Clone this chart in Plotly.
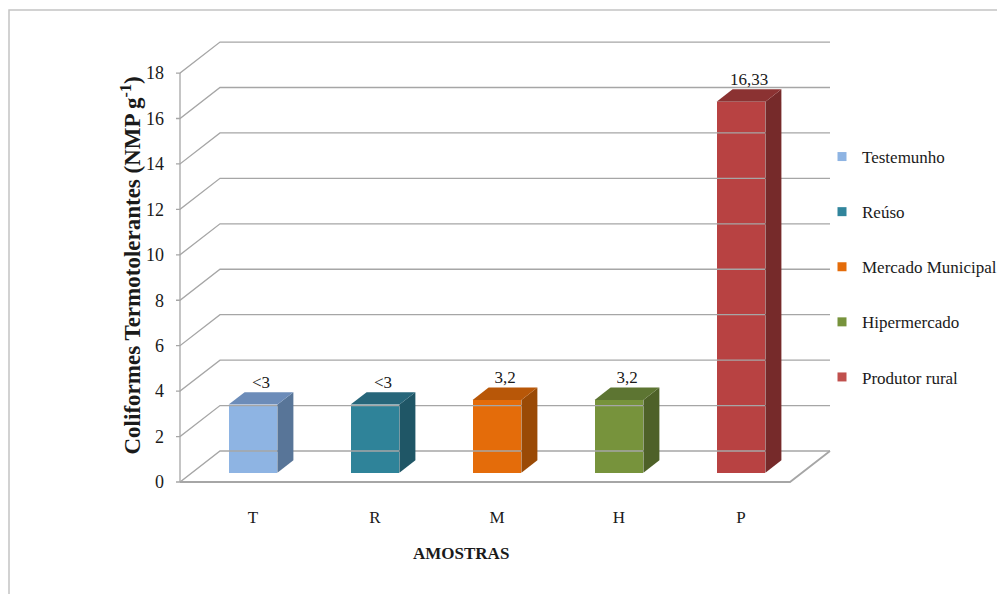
import plotly.graph_objects as go

# ---------------- data ----------------
categories = ["T", "R", "M", "H", "P"]
series_names = ["Testemunho", "Reúso", "Mercado Municipal", "Hipermercado", "Produtor rural"]
values = [3, 3, 3.2, 3.2, 16.33]
value_labels = ["<3", "<3", "3,2", "3,2", "16,33"]
y_ticks = [0, 2, 4, 6, 8, 10, 12, 14, 16, 18]
y_tick_labels = ["0", "2", "4", "6", "8", "10", "12", "14", "16", "18"]

# ---------------- styles ----------------
front_colors = ["#8EB4E3", "#2F8399", "#E46C0A", "#77933C", "#B84242"]
side_colors = ["#587598", "#1F5666", "#9A4A06", "#4E6128", "#762A2A"]
top_colors = ["#6C8CB9", "#27667A", "#B85708", "#5D7532", "#8B3232"]
legend_colors = ["#8EB4E3", "#31859C", "#E46C0A", "#77933C", "#C0504D"]
grid_color = "#A6A6A6"
FONT = "Liberation Serif, Times New Roman, serif"
TXT = "#1a1a1a"

# ---------------- geometry (pseudo 3-D) ----------------
W, H = 997, 594
M_L, M_R, M_T, M_B = 176, 163, 36, 106
PX_X = 122.0    # pixels per category
PX_Y = 22.72    # pixels per value unit
DX = 40 / PX_X  # depth offset (x) of back wall, in data units
DY = 31 / PX_Y  # depth offset (y) of back wall, in data units
D_FRONT, D_BACK = 0.3, 0.7
BAR_W = 0.4
X_LEFT = -0.5
X_RIGHT = len(categories) - 0.5

x_range = [X_LEFT - 4 / PX_X, X_LEFT - 4 / PX_X + (W - M_L - M_R) / PX_X]
y_range = [-6 / PX_Y, -6 / PX_Y + (H - M_T - M_B) / PX_Y]

fig = go.Figure()

# gridlines (diagonal on side wall + horizontal on back wall), with small tick marks
gx, gy = [], []
for t in y_ticks:
    gx += [X_LEFT - 5 / PX_X, X_LEFT, X_LEFT + DX, X_RIGHT + DX, None]
    gy += [t, t, t + DY, t + DY, None]
fig.add_trace(go.Scatter(x=gx, y=gy, mode="lines", line=dict(color=grid_color, width=1.3),
                         hoverinfo="skip", showlegend=False))
# axis line and floor edges
fig.add_trace(go.Scatter(x=[X_LEFT, X_LEFT], y=[y_ticks[0], y_ticks[-1]], mode="lines",
                         line=dict(color=grid_color, width=1.3), hoverinfo="skip", showlegend=False))
fig.add_trace(go.Scatter(x=[X_LEFT, X_RIGHT, X_RIGHT + DX], y=[0, 0, DY], mode="lines",
                         line=dict(color=grid_color, width=1.8), hoverinfo="skip", showlegend=False))

# side and top faces of bars
bx0 = [i + D_FRONT * DX for i in range(len(categories))]
base = D_FRONT * DY
ddx = (D_BACK - D_FRONT) * DX
ddy = (D_BACK - D_FRONT) * DY
for i, v in enumerate(values):
    xl = bx0[i] - BAR_W / 2
    xr = bx0[i] + BAR_W / 2
    fig.add_trace(go.Scatter(
        x=[xr, xr + ddx, xr + ddx, xr, xr], y=[base, base + ddy, base + ddy + v, base + v, base],
        mode="lines", fill="toself", fillcolor=side_colors[i], line=dict(width=0, color=side_colors[i]),
        hoverinfo="skip", showlegend=False))
    fig.add_trace(go.Scatter(
        x=[xl, xr, xr + ddx, xl + ddx, xl], y=[base + v, base + v, base + v + ddy, base + v + ddy, base + v],
        mode="lines", fill="toself", fillcolor=top_colors[i], line=dict(width=0, color=top_colors[i]),
        hoverinfo="skip", showlegend=False))

# front faces (bars)
fig.add_trace(go.Bar(x=bx0, y=values, base=[base] * len(values), width=BAR_W,
                     marker=dict(color=front_colors, line=dict(width=0)),
                     showlegend=False, hoverinfo="skip"))

# value labels
fig.add_trace(go.Scatter(
    x=[b + ddx / 2 for b in bx0], y=[v + base + ddy for v in values], mode="text",
    text=value_labels, textposition="top center",
    textfont=dict(family=FONT, size=17, color=TXT), hoverinfo="skip", showlegend=False))

# legend entries
for name, col in zip(series_names, legend_colors):
    fig.add_trace(go.Scatter(x=[None], y=[None], mode="markers", name=name, legendgroup=name,
                             marker=dict(symbol="square", size=9, color=col)))

def px_to_paper_x(px):
    return (px - M_L) / (W - M_L - M_R)

def px_to_paper_y(py):
    return (H - M_B - py) / (H - M_T - M_B)

fig.update_layout(
    width=W, height=H,
    margin=dict(l=M_L, r=M_R, t=M_T, b=M_B, autoexpand=False),
    paper_bgcolor="white", plot_bgcolor="white",
    font=dict(family=FONT, size=17, color=TXT),
    xaxis=dict(range=x_range, tickvals=bx0, ticktext=categories, showgrid=False, zeroline=False,
               showline=False, ticks="", ticklabelstandoff=17, automargin=False,
               tickfont=dict(family=FONT, size=17, color=TXT)),
    yaxis=dict(range=y_range, tickvals=y_ticks, ticktext=y_tick_labels, showgrid=False, zeroline=False,
               showline=False, ticks="", ticklabelstandoff=11, automargin=False,
               tickfont=dict(family=FONT, size=18, color=TXT)),
    legend=dict(x=px_to_paper_x(822), y=px_to_paper_y(139), xanchor="left", yanchor="top",
                font=dict(family=FONT, size=17, color=TXT), tracegroupgap=30,
                bgcolor="rgba(0,0,0,0)"),
    shapes=[dict(type="rect", xref="paper", yref="paper",
                 x0=px_to_paper_x(9), x1=px_to_paper_x(1100),
                 y0=px_to_paper_y(700), y1=px_to_paper_y(10),
                 line=dict(color="#C4C4C4", width=1.5), fillcolor="rgba(0,0,0,0)", layer="below")],
    annotations=[
        dict(text="<b>Coliformes Termotolerantes (NMP g<sup>-1</sup>)</b>", textangle=-90,
             xref="paper", yref="paper", x=px_to_paper_x(114), y=px_to_paper_y(266),
             showarrow=False, font=dict(family=FONT, size=23, color=TXT)),
        dict(text="<b>AMOSTRAS</b>", xref="paper", yref="paper",
             x=px_to_paper_x(461), y=px_to_paper_y(565), showarrow=False,
             font=dict(family=FONT, size=17, color=TXT)),
    ],
    bargap=0,
)

fig.write_html("out.html")
